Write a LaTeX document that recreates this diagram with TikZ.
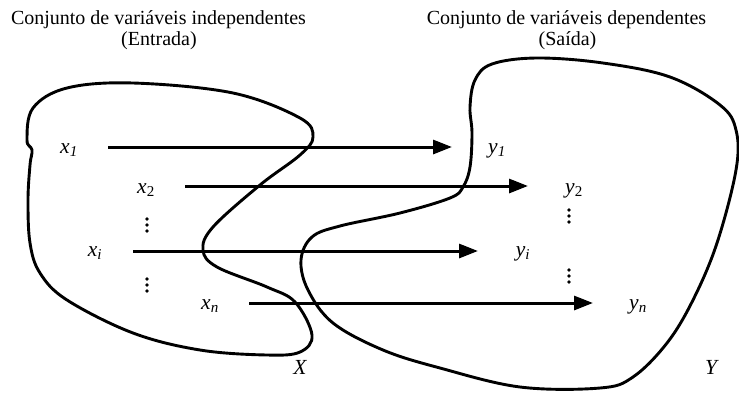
\documentclass[tikz,border=0pt]{standalone}
\usepackage{fontspec}
\setmainfont{Liberation Serif}
\usetikzlibrary{arrows.meta}
\begin{document}
\begin{tikzpicture}[x=1pt,y=-1pt,
  blob/.style={line width=2.9pt, line join=round},
  arr/.style={line width=3pt, -{Triangle[length=19pt,width=14pt]}},
  lbl/.style={font=\fontsize{21.5}{22}\selectfont\itshape, inner sep=0pt},
  ttl/.style={font=\fontsize{20}{22}\selectfont, inner sep=0pt, anchor=base},
  vdot/.style={fill=black}]
\useasboundingbox (0,0) rectangle (739,392);

% titles
\node[ttl] (t1) at (158.5,24) {Conjunto de variáveis independentes};
\node[ttl] (t2) at (159,45) {(Entrada)};
\node[ttl] (t3) at (566.5,24) {Conjunto de variáveis dependentes};
\node[ttl] (t4) at (567.5,45) {(Saída)};

% set X
\draw[blob] plot[smooth cycle, tension=0.6] coordinates {
 (27,140) (33,108) (67,88) (133,83) (233,93) (300,118) (313,137) (300,155)
 (260,185) (213,227) (203,250) (217,267) (267,287) (295,302) (312,335)
 (300,352) (267,355) (200,350) (133,333) (67,300) (40,273) (30,243)
 (28,200) (30,165) (32,150)};

% set Y
\draw[blob] plot[smooth cycle, tension=0.6] coordinates {
 (537,58) (603,63) (670,77) (720,105) (736,130) (736,170) (717,243)
 (693,300) (667,343) (633,377) (600,388) (520,387) (440,368) (383,350)
 (333,323) (308,290) (301,260) (312,237) (340,226) (400,213) (450,198)
 (463,187) (470,167) (472,133) (470,107) (475,80) (492,64)};

% labels
\node[lbl] (x1) at (69,150) {x\textsubscript{\itshape 1}};
\node[lbl] (x2) at (146,190) {x\textsubscript{\upshape 2}};
\node[lbl] (xi) at (95,253) {x\textsubscript{i}};
\node[lbl] (xn) at (210,306) {x\textsubscript{n}};
\node[lbl] (X) at (300,367) {X};
\node[lbl] (y1) at (497,151) {y\textsubscript{\itshape 1}};
\node[lbl] (y2) at (574,191) {y\textsubscript{\upshape 2}};
\node[lbl] (yi) at (523,254) {y\textsubscript{i}};
\node[lbl] (yn) at (638,307) {y\textsubscript{n}};
\node[lbl] (Y) at (711,367) {Y};

% arrow endpoints
\coordinate (a1) at (108,147); \coordinate (b1) at (452,147);
\coordinate (a2) at (185,186); \coordinate (b2) at (528,186);
\coordinate (ai) at (133,251); \coordinate (bi) at (478,251);
\coordinate (an) at (249,303); \coordinate (bn) at (593,303);
\draw[arr] (a1) -- (b1);
\draw[arr] (a2) -- (b2);
\draw[arr] (ai) -- (bi);
\draw[arr] (an) -- (bn);

% vertical dots
\foreach \cx/\cy in {147/219, 147/279, 569/210, 569/270}{
  \foreach \k in {0,1,2}{
    \fill[vdot] (\cx,\cy+6*\k) circle (1.9);
  }
}
\end{tikzpicture}
\end{document}
